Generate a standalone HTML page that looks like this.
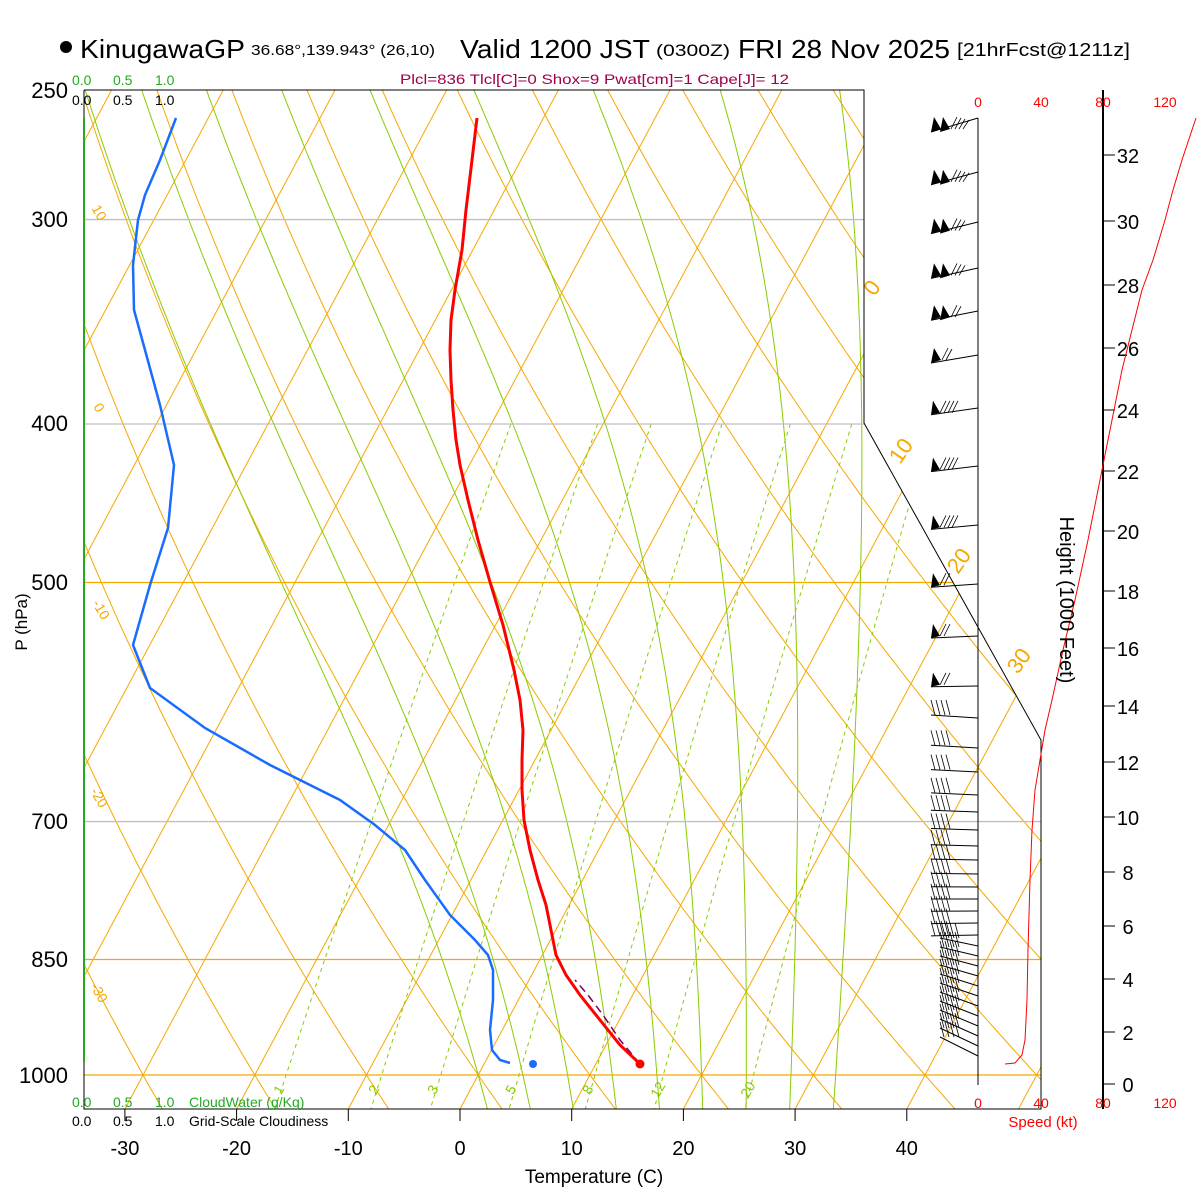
<!DOCTYPE html>
<html><head><meta charset="utf-8"><style>
html,body{margin:0;padding:0;background:#fff;}
svg{display:block;font-family:"Liberation Sans",sans-serif;}
</style></head><body>
<svg id="s" width="1200" height="1200" xmlns="http://www.w3.org/2000/svg">
<defs><clipPath id="cp"><polygon points="84,90 864,90 864,423 1041,740 1041,1109 84,1109"/></clipPath></defs>
<rect width="1200" height="1200" fill="#fff"/>
<g id="bg" clip-path="url(#cp)"></g>
<g id="fg"></g>
</svg>
<script>
var NS="http://www.w3.org/2000/svg";
var bg=document.getElementById('bg'),fg=document.getElementById('fg');
function yP(p){return 1075-710.5*Math.log(1000/p);}
function xT(T,y){return 460+11.17*T+0.535*(1109-y);}
function el(par,tag,at,txt){var e=document.createElementNS(NS,tag);for(var k in at)e.setAttribute(k,at[k]);if(txt!=null)e.textContent=txt;par.appendChild(e);return e;}
function poly(par,pts,st,w,dash){var d=pts.map(function(p){return p[0].toFixed(1)+','+p[1].toFixed(1)}).join(' ');var a={points:d,fill:'none',stroke:st,'stroke-width':w};if(dash)a['stroke-dasharray']=dash;return el(par,'polyline',a);}
function es(T){return 6.112*Math.exp(17.67*T/(T+243.5));}
var OR='#f5a800',GR='#88cc00';
for(var T=-120;T<=60;T+=10){var y1=90,y2=1109;poly(bg,[[xT(T,y2),y2],[xT(T,y1),y1]],OR,1);}
for(var th=-50;th<=220;th+=10){var pts=[];for(var p=240;p<=1060;p+=10){var T=(th+273.15)*Math.pow(p/1000,0.286)-273.15;var y=yP(p);pts.push([xT(T,y),y]);}poly(bg,pts,OR,1);}
function step(T,p,dp){var Tk=T+273.15;var e=es(T);var rs=0.622*e/(p-e);var g=(287*Tk+2.5e6*rs)/(1005+2.5e6*2.5e6*rs*0.622/(287*Tk*Tk))/p;return T+g*dp;}
for(var tw=0;tw<=32;tw+=4){
 var T=tw,p=1000;var up=[];while(p>240){var y=yP(p);up.push([xT(T,y),y]);T=step(T,p,-2);p-=2;}
 T=tw;p=1000;var dn=[];while(p<1060){T=step(T,p,2);p+=2;var y=yP(p);dn.unshift([xT(T,y),y]);}
 poly(bg,dn.concat(up),GR,1);}
[1,2,3,5,8,12,20].forEach(function(w){var pts=[];for(var p=400;p<=1060;p+=10){var e=w*p/(622+w);var l=Math.log(e/6.112);var Td=243.5*l/(17.67-l);var y=yP(p);pts.push([xT(Td,y)-8*(1060-p)/660,y]);}poly(bg,pts,GR,1,'4,4');});
[[300,'#c0c0c0'],[400,'#c0c0c0'],[500,OR],[700,'#c0c0c0'],[850,OR],[1000,OR]].forEach(function(a){var y=yP(a[0]);el(bg,'line',{x1:84,x2:1041,y1:y,y2:y,stroke:a[1],'stroke-width':1.3});});
poly(fg,[[84,90],[864,90],[864,423],[1041,740],[1041,1109],[84,1109],[84,90]],'#000',1);
el(fg,'line',{x1:84,x2:84,y1:118,y2:1062,stroke:'#22aa22','stroke-width':2});
var red=[[477,118],[472,160],[466,210],[462,250],[455,290],[451,320],[450,350],[451,380],[453,410],[456,440],[460,465],[468,500],[478,540],[490,582],[503,625],[514,670],[520,700],[523,730],[522,760],[522,790],[524,820],[530,850],[538,880],[546,905],[552,935],[556,955],[566,975],[580,995],[600,1020],[620,1045],[640,1064]];
var blue=[[176,118],[160,160],[145,195],[138,220],[133,265],[134,310],[145,350],[160,405],[174,465],[168,528],[150,585],[133,645],[150,688],[205,728],[270,765],[340,800],[375,825],[405,850],[425,880],[450,915],[475,940],[488,955],[493,970],[493,1000],[490,1030],[492,1050],[500,1060],[510,1063]];
poly(fg,[[640,1064],[620,1040],[603,1015],[588,995],[575,980]],'#800060',1.5,'8,5');
poly(fg,red,'#ff0000',3);poly(fg,blue,'#1a6cff',2.5);
el(fg,'circle',{cx:640,cy:1064,r:4.5,fill:'#ff0000'});el(fg,'circle',{cx:533,cy:1064,r:4,fill:'#1a6cff'});
function rt(x,y,s,col,sz,ang){el(fg,'text',{x:x,y:y,fill:col,'font-size':sz,transform:'rotate('+ang+' '+x+' '+y+')','text-anchor':'middle'},s);}
[['10',95,215],['0',95,410],['-10',97,612],['-20',95,800],['-30',95,995]].forEach(function(a){rt(a[1],a[2],a[0],OR,14,60);});
[['0',878,292],['10',907,455],['20',965,565],['30',1025,665]].forEach(function(a){rt(a[1],a[2],a[0],OR,22,-55);});
[['1',283,1092],['2',378,1092],['3',437,1092],['5',515,1092],['8',592,1092],['12',662,1092],['20',752,1092]].forEach(function(a){rt(a[1],a[2],a[0],GR,14,-60);});
var wy=[118,172,222,268,311,355,408,466,525,584,636,686,718,748,772,795,812,830,846,860,874,887,899,911,923,935,946,956,966,976,986,996,1006,1016,1026,1036,1046,1056];
el(fg,'line',{x1:978,x2:978,y1:118,y2:1085,stroke:'#000','stroke-width':1});
wy.forEach(function(y,i){var tx=931,ty;var dy;
 if(i<12){dy=14-i*1.2;}else if(i<26){dy=-3+(i-12)*0.3;}else{dy=-8-(i-26)*1.0;}
 ty=y+dy;if(i>=26)tx=940;
 el(fg,'line',{x1:978,y1:y,x2:tx,y2:ty,stroke:'#000','stroke-width':1});
 if(i<6){var nf=i<5?2:1;for(var f=0;f<nf;f++){var bx=tx+f*9;el(fg,'polygon',{points:bx+','+ty+' '+(bx+10)+','+(ty-3)+' '+(bx+3)+','+(ty-15),fill:'#000'});}
  for(var b=0;b<4-Math.floor(i/2);b++){var bx=tx+nf*9+2+b*4;el(fg,'line',{x1:bx,y1:ty-3,x2:bx+6,y2:ty-15+b,stroke:'#000','stroke-width':0.8});}}
 else if(i<12){el(fg,'polygon',{points:tx+','+ty+' '+(tx+9)+','+(ty-2)+' '+(tx+2)+','+(ty-14),fill:'#000'});
  for(var b=0;b<(i<9?4:2);b++){var bx=tx+9+b*4;el(fg,'line',{x1:bx,y1:ty-2,x2:bx+6,y2:ty-14,stroke:'#000','stroke-width':0.8});}}
 else{for(var b=0;b<4;b++){var bx=tx+4+b*5;el(fg,'line',{x1:bx,y1:ty,x2:bx-4,y2:ty-15,stroke:'#000','stroke-width':0.8});}}
});
el(fg,'line',{x1:1103,x2:1103,y1:90,y2:1109,stroke:'#000','stroke-width':2});
var hy=[1084,1032,979,926,872,817,762,706,648,591,531,471,410,348,285,221,155];
hy.forEach(function(y,i){el(fg,'line',{x1:1103,x2:1115,y1:y,y2:y,stroke:'#000','stroke-width':1});el(fg,'text',{x:1128,y:y+8,'font-size':20,fill:'#000','text-anchor':'middle'},String(i*2));});
poly(fg,[[1005,1064],[1015,1063],[1022,1055],[1025,1040],[1027,1000],[1028,950],[1030,880],[1032,830],[1035,790],[1040,760],[1045,730],[1052,700],[1063,650],[1075,600],[1088,540],[1102,470],[1112,420],[1122,370],[1132,330],[1142,290],[1153,260],[1165,220],[1173,190],[1182,160],[1196,118]],'#ff0000',1);
[[0,978],[40,1041],[80,1103],[120,1165]].forEach(function(a){el(fg,'text',{x:a[1],y:107,fill:'#ff0000','font-size':14,'text-anchor':'middle'},String(a[0]));el(fg,'text',{x:a[1],y:1108,fill:'#ff0000','font-size':14,'text-anchor':'middle'},String(a[0]));});
el(fg,'text',{x:1043,y:1127,fill:'#ff0000','font-size':15,'text-anchor':'middle'},'Speed (kt)');
el(fg,'text',{x:1060,y:600,fill:'#000','font-size':20,'text-anchor':'middle',transform:'rotate(90 1060 600)'},'Height (1000 Feet)');
[[250,90],[300,219],[400,423],[500,582],[700,821],[850,959],[1000,1075]].forEach(function(a){el(fg,'text',{x:68,y:a[1]+8,'font-size':22,fill:'#000','text-anchor':'end'},String(a[0]));});
el(fg,'text',{x:27,y:622,'font-size':17,fill:'#000','text-anchor':'middle',transform:'rotate(-90 27 622)'},'P (hPa)');
for(var T=-30;T<=40;T+=10){var x=460+11.17*T;el(fg,'line',{x1:x,x2:x,y1:1109,y2:1121,stroke:'#000'});el(fg,'text',{x:x,y:1155,'font-size':20,fill:'#000','text-anchor':'middle'},String(T));}
el(fg,'text',{x:594,y:1183,'font-size':19,fill:'#000','text-anchor':'middle'},'Temperature (C)');
function tx(x,y,s,c,sz,anc){el(fg,'text',{x:x,y:y,'font-size':sz,fill:c,'text-anchor':anc||'start'},s);}
tx(72,85,'0.0','#22aa22',14);tx(113,85,'0.5','#22aa22',14);tx(155,85,'1.0','#22aa22',14);
tx(72,105,'0.0','#000',14);tx(113,105,'0.5','#000',14);tx(155,105,'1.0','#000',14);
tx(72,1107,'0.0','#22aa22',14);tx(113,1107,'0.5','#22aa22',14);tx(155,1107,'1.0','#22aa22',14);tx(189,1107,'CloudWater (g/Kg)','#22aa22',14);
tx(72,1126,'0.0','#000',14);tx(113,1126,'0.5','#000',14);tx(155,1126,'1.0','#000',14);tx(189,1126,'Grid-Scale Cloudiness','#000',14);
el(fg,'circle',{cx:66,cy:47,r:6,fill:'#000'});
el(fg,'text',{x:80,y:58,'font-size':26,fill:'#000',textLength:165,lengthAdjust:'spacingAndGlyphs'},'KinugawaGP');
el(fg,'text',{x:251,y:55,'font-size':15,fill:'#000',textLength:184,lengthAdjust:'spacingAndGlyphs'},'36.68°,139.943° (26,10)');
el(fg,'text',{x:460,y:58,'font-size':26,fill:'#000',textLength:190,lengthAdjust:'spacingAndGlyphs'},'Valid 1200 JST');
el(fg,'text',{x:656,y:56,'font-size':17,fill:'#000',textLength:74,lengthAdjust:'spacingAndGlyphs'},'(0300Z)');
el(fg,'text',{x:738,y:58,'font-size':26,fill:'#000',textLength:212,lengthAdjust:'spacingAndGlyphs'},'FRI 28 Nov 2025');
el(fg,'text',{x:957,y:56,'font-size':18,fill:'#000',textLength:173,lengthAdjust:'spacingAndGlyphs'},'[21hrFcst@1211z]');
el(fg,'text',{x:400,y:84,'font-size':14,fill:'#a0004a',textLength:389,lengthAdjust:'spacingAndGlyphs'},'Plcl=836 Tlcl[C]=0 Shox=9 Pwat[cm]=1 Cape[J]= 12');
</script>
</body></html>
